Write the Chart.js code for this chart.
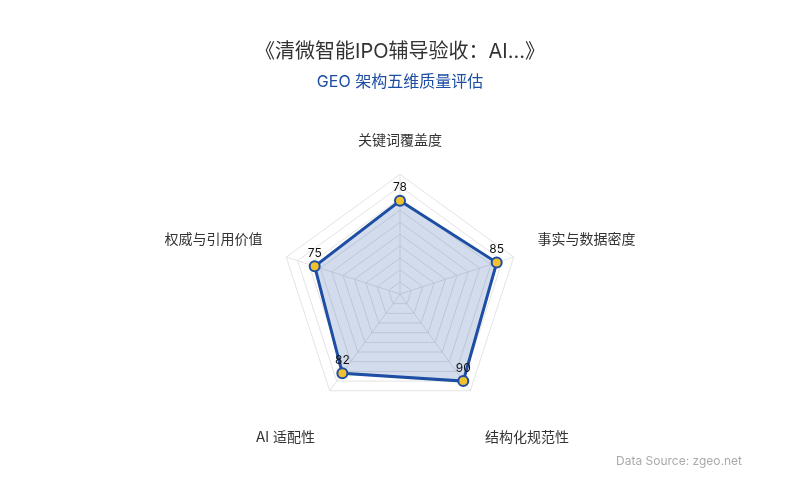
<!DOCTYPE html>
<html>
<head>
<meta charset="utf-8">
<script src="https://cdn.jsdelivr.net/npm/chart.js@4"></script>
<style>
  html, body { margin:0; padding:0; background:#fff; }
  #wrap { width:800px; height:500px; position:relative; }
</style>
</head>
<body>
<div id="wrap"><canvas id="radar"></canvas></div>
<script>
// données
const dimensions = ['关键词覆盖度', '事实与数据密度', '结构化规范性', 'AI 适配性', '权威与引用价值'];
const scores = [78, 85, 90, 82, 75];
const chartTitle = '《清微智能IPO辅导验收：AI...》';
const chartSubtitle = 'GEO 架构五维质量评估';
const sourceText = 'Data Source: zgeo.net';

const FONT = "Inter, 'Noto Sans CJK SC', sans-serif";

// valeurs au-dessus des points
const valueLabels = {
  id: 'valueLabels',
  afterDatasetsDraw(chart) {
    const ctx = chart.ctx;
    const meta = chart.getDatasetMeta(0);
    ctx.save();
    ctx.font = '12px ' + FONT;
    ctx.fillStyle = '#111';
    ctx.textAlign = 'center';
    ctx.textBaseline = 'bottom';
    meta.data.forEach((pt, i) => {
      ctx.fillText(String(scores[i]), pt.x, pt.y - 7);
    });
    ctx.restore();
  }
};

// source en bas à droite
const sourceNote = {
  id: 'sourceNote',
  afterDraw(chart) {
    const ctx = chart.ctx;
    ctx.save();
    ctx.font = '12px ' + FONT;
    ctx.fillStyle = '#aaa';
    ctx.textAlign = 'right';
    ctx.textBaseline = 'middle';
    ctx.fillText(sourceText, chart.width - 58, 461);
    ctx.restore();
  }
};

new Chart(document.getElementById('radar'), {
  type: 'radar',
  data: {
    labels: dimensions,
    datasets: [{
      data: scores,
      borderColor: '#1d4ea3',
      borderWidth: 3,
      backgroundColor: 'rgba(29,78,163,0.2)',
      pointBackgroundColor: '#f2c12e',
      pointBorderColor: '#1d4ea3',
      pointBorderWidth: 2,
      pointRadius: 5,
      fill: true
    }]
  },
  options: {
    responsive: true,
    maintainAspectRatio: false,
    animation: false,
    layout: { padding: { top: 0, bottom: 48, left: 120, right: 120 } },
    plugins: {
      legend: { display: false },
      tooltip: { enabled: false },
      title: {
        display: true, text: chartTitle, color: '#333',
        font: { family: FONT, size: 20, weight: 'normal' },
        padding: { top: 40, bottom: 9 }
      },
      subtitle: {
        display: true, text: chartSubtitle, color: '#1d4ea3',
        font: { family: FONT, size: 16, weight: 'normal' },
        padding: { top: 0, bottom: 33 }
      }
    },
    scales: {
      r: {
        min: 0, max: 100,
        ticks: { stepSize: 10, display: false },
        grid: { color: '#e3e3e3' },
        angleLines: { color: '#e3e3e3' },
        pointLabels: {
          color: '#333', padding: 25,
          font: { family: FONT, size: 14, lineHeight: 1.3 },
          // les deux libellés du bas sont décalés d'une ligne
          callback: (label, i) => (i === 2 || i === 3) ? ['', label] : label
        }
      }
    }
  },
  plugins: [valueLabels, sourceNote]
});
</script>
</body>
</html>
